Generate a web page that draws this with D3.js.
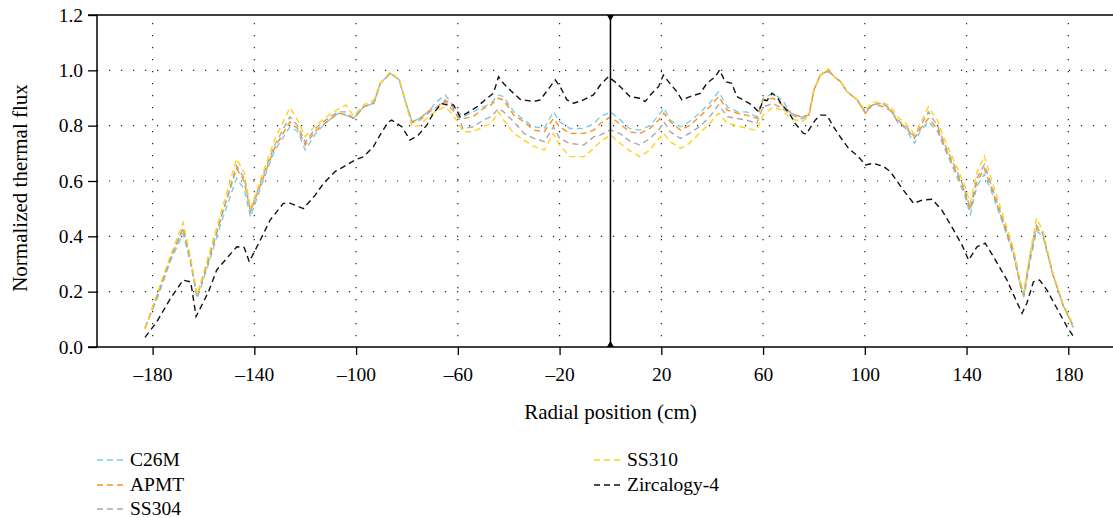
<!DOCTYPE html>
<html><head><meta charset="utf-8">
<script src="https://cdn.jsdelivr.net/npm/d3@7"></script>
<style>
body{margin:0;background:#fff;}
text{font-family:"Liberation Serif","Times New Roman",serif;fill:#000;}
</style></head>
<body><svg id="chart" width="1113" height="518"></svg>
<script>
// ---------- data ----------
const xTicks = [-180,-140,-100,-60,-20,20,60,100,140,180];
const yTicks = [0,0.2,0.4,0.6,0.8,1.0,1.2];
const seriesNames = ["C26M","APMT","SS304","SS310","Zircalogy-4"];
const seriesColors = ["#7ccbec","#f7931e","#a9a9a9","#ffd21f","#111111"];

const colorX = [-183,-178,-173,-168,-165,-162.5,-158,-153,-147,-144,-141.5,-137,-132,-126,-123,-120,-116,-112,-107,-104,-101,-97,-93,-90.5,-86.5,-83,-80.8,-78,-75,-71,-69,-65,-62.5,-60,-58,-54,-50,-47,-44,-42,-38,-34,-30,-26,-22.4,-20,-16,-10.5,-6.5,-4,0,4,7.5,11.5,15.5,19,21,23.5,27.5,31,35,39,42.5,46,50,53.5,57.5,60,64,67.5,71,75,78,80,82.5,85.7,88,90.5,93,97,100.2,103,107,110,113,116,119.5,122,125,128.5,132,135.5,139,141.5,144,147,150.5,154.5,158.5,161,162.5,165,167.5,170,174,178,182];

const c26m = [0.07,0.18,0.31,0.41,0.30,0.175,0.30,0.45,0.61,0.57,0.47,0.59,0.71,0.796,0.78,0.712,0.77,0.81,0.845,0.838,0.826,0.868,0.881,0.953,0.989,0.965,0.893,0.814,0.826,0.856,0.881,0.911,0.881,0.85,0.832,0.85,0.868,0.881,0.911,0.905,0.85,0.82,0.796,0.79,0.85,0.814,0.79,0.79,0.808,0.832,0.85,0.82,0.79,0.784,0.80,0.838,0.863,0.82,0.796,0.814,0.845,0.881,0.923,0.868,0.85,0.85,0.832,0.899,0.917,0.893,0.845,0.832,0.838,0.929,0.983,0.995,0.977,0.959,0.923,0.893,0.845,0.875,0.881,0.86,0.81,0.79,0.736,0.784,0.814,0.78,0.705,0.63,0.555,0.48,0.58,0.625,0.545,0.44,0.33,0.225,0.18,0.31,0.42,0.40,0.26,0.15,0.07];

const apmt = [0.065,0.19,0.32,0.43,0.31,0.185,0.31,0.47,0.645,0.60,0.49,0.60,0.72,0.814,0.79,0.73,0.78,0.81,0.845,0.84,0.826,0.868,0.881,0.953,0.99,0.965,0.893,0.814,0.826,0.856,0.862,0.893,0.875,0.83,0.826,0.832,0.862,0.875,0.899,0.893,0.838,0.814,0.784,0.778,0.826,0.796,0.772,0.772,0.784,0.808,0.832,0.805,0.778,0.772,0.79,0.82,0.845,0.814,0.784,0.80,0.832,0.868,0.905,0.856,0.845,0.838,0.826,0.893,0.899,0.875,0.845,0.832,0.838,0.929,0.983,1.0,0.977,0.959,0.923,0.893,0.845,0.875,0.87,0.855,0.815,0.795,0.754,0.79,0.826,0.79,0.712,0.64,0.567,0.495,0.595,0.645,0.555,0.447,0.339,0.23,0.188,0.326,0.43,0.41,0.26,0.15,0.075];

const ss304 = [0.07,0.19,0.32,0.43,0.31,0.185,0.32,0.47,0.655,0.61,0.49,0.61,0.73,0.832,0.80,0.74,0.79,0.82,0.85,0.85,0.826,0.868,0.885,0.953,0.99,0.965,0.893,0.81,0.82,0.85,0.862,0.887,0.86,0.838,0.79,0.796,0.82,0.832,0.862,0.85,0.814,0.772,0.754,0.742,0.796,0.754,0.736,0.73,0.76,0.766,0.785,0.77,0.745,0.73,0.754,0.784,0.814,0.778,0.754,0.772,0.796,0.832,0.875,0.832,0.826,0.82,0.808,0.868,0.88,0.862,0.84,0.825,0.835,0.929,0.983,1.0,0.977,0.959,0.923,0.893,0.85,0.878,0.88,0.86,0.82,0.80,0.76,0.80,0.85,0.80,0.72,0.65,0.575,0.50,0.61,0.66,0.565,0.455,0.345,0.235,0.19,0.33,0.44,0.41,0.26,0.15,0.075];

const ss310 = [0.065,0.20,0.33,0.45,0.32,0.19,0.33,0.49,0.68,0.63,0.50,0.62,0.75,0.865,0.82,0.76,0.80,0.83,0.86,0.875,0.835,0.875,0.893,0.953,0.995,0.965,0.893,0.796,0.80,0.838,0.85,0.868,0.845,0.814,0.778,0.778,0.796,0.808,0.85,0.82,0.772,0.748,0.724,0.712,0.772,0.73,0.688,0.688,0.718,0.742,0.766,0.735,0.71,0.688,0.712,0.754,0.772,0.742,0.718,0.736,0.772,0.808,0.845,0.808,0.80,0.79,0.784,0.838,0.868,0.855,0.826,0.814,0.832,0.929,0.983,1.005,0.977,0.959,0.923,0.893,0.855,0.885,0.885,0.87,0.83,0.81,0.77,0.81,0.868,0.82,0.735,0.665,0.59,0.52,0.63,0.69,0.585,0.47,0.355,0.24,0.20,0.34,0.465,0.42,0.265,0.155,0.08];

const zirX = [-183,-178.4,-173,-168,-165,-162.9,-158,-154.8,-150,-146.9,-144,-142,-138,-133.8,-128.6,-126,-120.7,-116,-112.9,-108.3,-106,-100.4,-97,-93.2,-90.6,-87.3,-86,-82,-78.8,-75.5,-72.2,-69.6,-66.3,-64.3,-61.7,-59.1,-56.5,-52.5,-49.3,-46,-44,-42.1,-38.8,-35.5,-30.3,-27.6,-23.7,-21.7,-19.8,-17.1,-14.5,-10.6,-6.7,-4,-0.8,2.5,5.1,7.7,11.7,13.6,16.3,18.9,20.8,22.8,26.1,28.1,31.3,35.3,37.9,41.2,42.9,45.1,47.7,49.7,52.3,55.6,58.2,60.2,61.5,63.5,65.4,67.4,70,72.6,75.9,77,80.5,82.5,85.1,87.7,90.3,93.6,97.5,100.2,103.4,107.4,110,114.6,119.2,122.5,126.4,130.3,134.9,138.2,140.8,144.1,147.3,150.6,155.9,159.1,161.8,163.7,166.3,168.7,171.6,175.5,179.5,182.1];

const zircaloy = [0.035,0.09,0.175,0.242,0.235,0.11,0.20,0.278,0.33,0.362,0.36,0.308,0.38,0.459,0.519,0.52,0.50,0.55,0.59,0.634,0.646,0.676,0.688,0.724,0.766,0.814,0.82,0.796,0.748,0.766,0.802,0.845,0.88,0.875,0.875,0.832,0.845,0.868,0.893,0.917,0.977,0.953,0.923,0.895,0.887,0.893,0.941,0.965,0.941,0.893,0.881,0.893,0.911,0.947,0.977,0.953,0.929,0.905,0.899,0.887,0.917,0.941,0.983,0.959,0.923,0.893,0.905,0.917,0.953,0.977,1.001,0.959,0.953,0.905,0.893,0.875,0.85,0.893,0.89,0.917,0.905,0.875,0.85,0.808,0.772,0.77,0.82,0.838,0.838,0.796,0.76,0.718,0.688,0.658,0.664,0.652,0.634,0.574,0.519,0.531,0.534,0.495,0.423,0.369,0.314,0.362,0.375,0.326,0.242,0.176,0.122,0.158,0.236,0.242,0.206,0.14,0.073,0.037];

// ---------- layout ----------
const svg = d3.select("#chart");
const pLeft = 97, pTop = 15, pBottom = 347, pRight = 1113;
const x = d3.scaleLinear().domain([-180,180]).range([152.6,1068.3]);
const y = d3.scaleLinear().domain([0,1.2]).range([pBottom, pTop]);

// grid (dotted)
const grid = svg.append("g");
grid.selectAll("line.h").data(yTicks.filter(v=>v>0 && v<1.2)).join("line")
  .attr("x1", pLeft).attr("x2", pRight).attr("y1", d=>y(d)).attr("y2", d=>y(d))
  .attr("stroke","#222").attr("stroke-width",1.2).attr("stroke-dasharray","1.2,10.8");
grid.selectAll("line.v").data(xTicks).join("line")
  .attr("x1", d=>x(d)).attr("x2", d=>x(d)).attr("y1", pTop+8).attr("y2", pBottom)
  .attr("stroke","#222").attr("stroke-width",1.2).attr("stroke-dasharray","1.2,10.8");

// axes
const xAxis = d3.axisBottom(x).tickValues(xTicks).tickSize(8).tickSizeOuter(0)
  .tickFormat(d => (d<0 ? "\u2013" + Math.abs(d) : String(d)));
const gx = svg.append("g").attr("transform",`translate(0,${pBottom})`).call(xAxis);
gx.select(".domain").remove();
gx.selectAll(".tick line").attr("stroke","#000").attr("stroke-width",1.3);
gx.selectAll(".tick text").attr("dy",null).attr("y",34).style("font-size","19.5px");

const yAxis = d3.axisLeft(y).tickValues(yTicks).tickSize(9).tickSizeOuter(0)
  .tickFormat(d3.format(".1f"));
const gy = svg.append("g").attr("transform",`translate(${pLeft},0)`).call(yAxis);
gy.select(".domain").remove();
gy.selectAll(".tick line").attr("stroke","#000").attr("stroke-width",1.3);
gy.selectAll(".tick text").attr("x",-14).style("font-size","19.5px");

// frame lines
svg.append("line").attr("x1",pLeft).attr("x2",pLeft).attr("y1",pTop).attr("y2",pBottom).attr("stroke","#000").attr("stroke-width",1.5);
svg.append("line").attr("x1",pLeft-9).attr("x2",pRight).attr("y1",pBottom).attr("y2",pBottom).attr("stroke","#000").attr("stroke-width",1.5);
svg.append("line").attr("x1",pLeft-9).attr("x2",pRight).attr("y1",pTop).attr("y2",pTop).attr("stroke","#000").attr("stroke-width",1.5);

// series
const line = d3.line().x(d=>x(d[0])).y(d=>y(d[1]));
const colorSeries = [c26m, apmt, ss304, ss310];
const allSeries = colorSeries.map(vals => colorX.map((v,i)=>[v, vals[i]]));
allSeries.push(zirX.map((v,i)=>[v, zircaloy[i]]));
svg.append("g").selectAll("path").data(allSeries).join("path")
  .attr("d", line).attr("fill","none")
  .attr("stroke",(d,i)=>seriesColors[i]).attr("stroke-width",1.4)
  .attr("stroke-dasharray","6,4");

// centre vertical line with end markers
svg.append("line").attr("x1",x(0)).attr("x2",x(0)).attr("y1",pTop).attr("y2",pBottom)
  .attr("stroke","#000").attr("stroke-width",1.5);
const tri = d3.symbol().type(d3.symbolTriangle).size(22);
svg.append("path").attr("d",tri).attr("transform",`translate(${x(0)},${pBottom-2})`).attr("fill","#000");
svg.append("path").attr("d",tri).attr("transform",`translate(${x(0)},${pTop+2}) rotate(180)`).attr("fill","#000");

// axis titles
svg.append("text").attr("x", x(0)).attr("y", 419).attr("text-anchor","middle")
  .style("font-size","21px").text("Radial position (cm)");
svg.append("text").attr("transform",`translate(27,${(pTop+pBottom)/2+7}) rotate(-90)`)
  .attr("text-anchor","middle").style("font-size","21px").text("Normalized thermal flux");

// legend
const legendPos = [[97,460],[97,485],[97,509],[594,460],[594,485]];
const lg = svg.append("g").selectAll("g").data(seriesNames).join("g")
  .attr("transform",(d,i)=>`translate(${legendPos[i][0]},${legendPos[i][1]})`);
lg.append("line").attr("x1",0).attr("x2",28).attr("y1",0).attr("y2",0)
  .attr("stroke",(d,i)=>seriesColors[i]).attr("stroke-width",1.4).attr("stroke-dasharray","6,4");
lg.append("text").attr("x",33).attr("y",6).style("font-size","19.5px").text(d=>d);
</script></body></html>
